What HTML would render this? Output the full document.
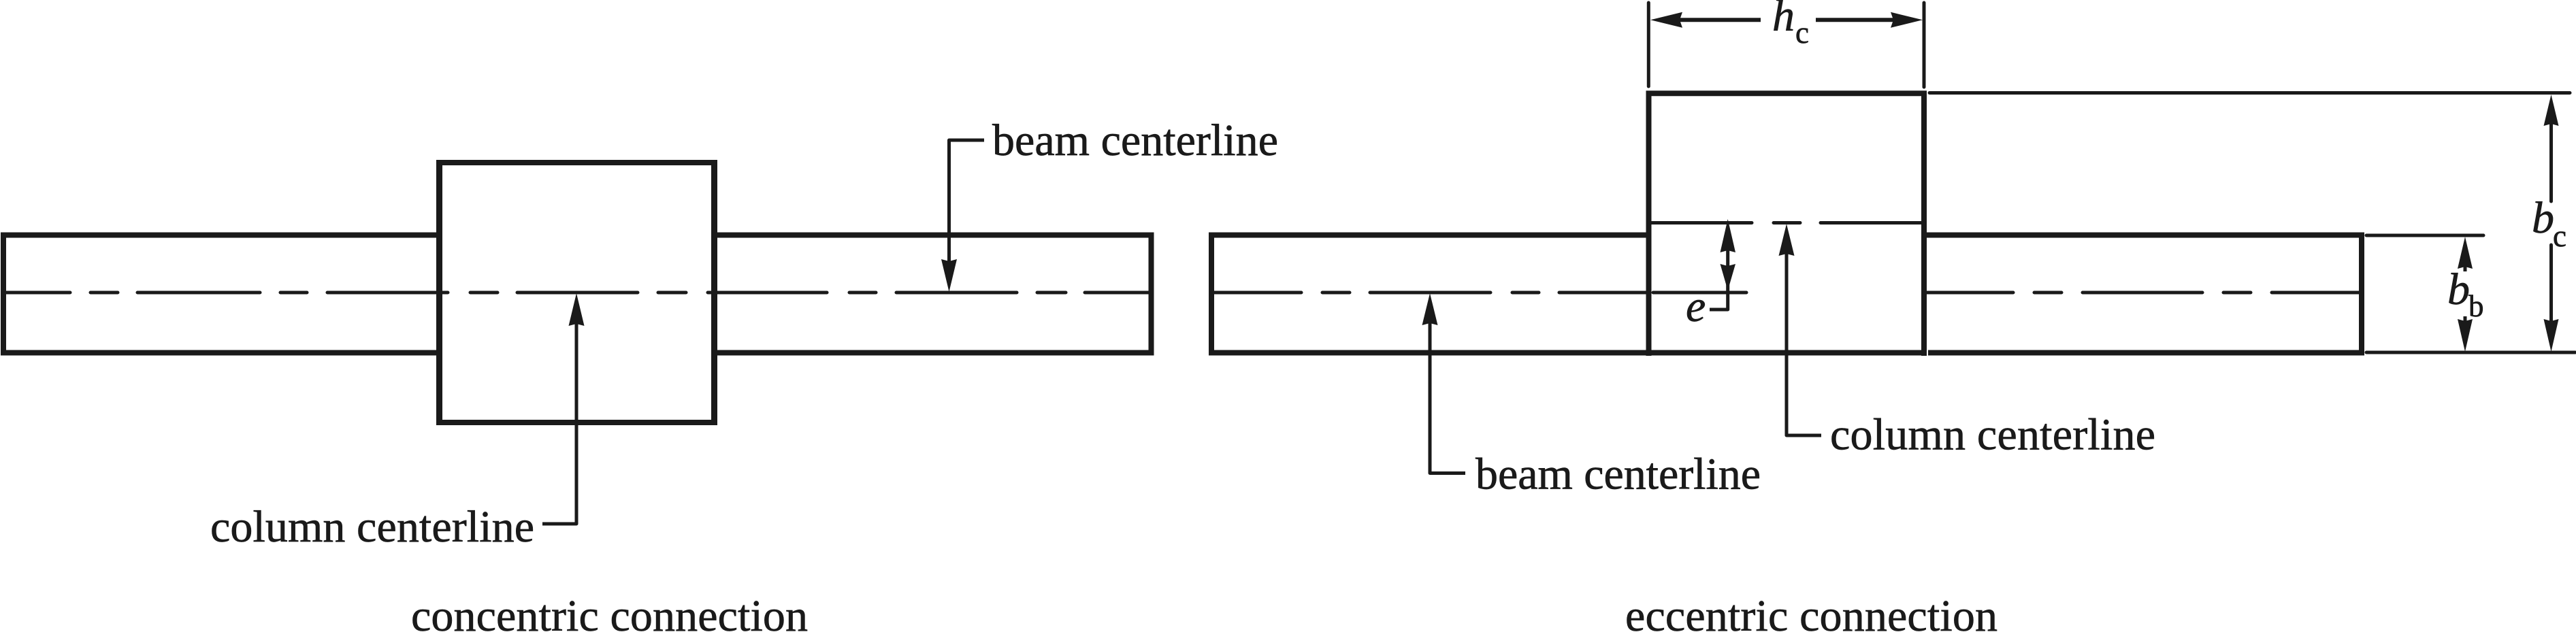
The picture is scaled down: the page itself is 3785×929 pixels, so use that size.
<!DOCTYPE html>
<html>
<head>
<meta charset="utf-8">
<style>
html,body{margin:0;padding:0;background:#fff;width:3785px;height:929px;overflow:hidden}
svg{display:block}
text{font-family:"Liberation Serif",serif;fill:#1a1a1a;stroke:#1a1a1a;stroke-width:.7px}
.t{font-size:66px}
.i{font-style:italic;font-size:66px}
.s{font-size:45px}
</style>
</head>
<body>
<svg width="3785" height="929" viewBox="0 0 3785 929" xmlns="http://www.w3.org/2000/svg">
<rect width="3785" height="929" fill="#fff"/>
<g fill="none" stroke="#1a1a1a" stroke-linecap="round" stroke-linejoin="round">
  <!-- left diagram thick -->
  <g stroke-linecap="butt" stroke-linejoin="miter">
    <path stroke-width="8" d="M646 345.5H5V518.5H646"/>
    <path stroke-width="8" d="M1049 345.5H1691.5V518.5H1049"/>
    <path stroke-width="8" d="M641 239H1054M641 621H1054"/>
    <path stroke-width="9" d="M645.5 235V625M1049.5 235V625"/>
  </g>
  <!-- left centerline -->
  <path stroke-width="5" d="M6 430H103M133 430H173M202 430H382M412 430H451M481 430H658M691 430H731M760 430H937M967 430H1008M1040 430H1215M1248 430H1287M1317 430H1494M1524 430H1566M1594 430H1690"/>
  <!-- left leaders -->
  <path stroke-width="5" stroke-linecap="butt" d="M1446 206H1394.5V400"/>
  <path stroke-width="5" stroke-linecap="butt" d="M797 770H847V470"/>

  <!-- right diagram thick -->
  <g stroke-width="8" stroke-linecap="butt" stroke-linejoin="miter">
    <path d="M2422.5 345.5H1780V518.5H2422.5"/>
    <path d="M2422.5 523V137.3H2827V523"/>
    <path d="M2422 518.5H2830"/>
    <path d="M2833 518.5H3470V345.5H2827"/>
  </g>
  <!-- right centerlines -->
  <path stroke-width="5" d="M1780 430H1912M1943 430H1983M2013 430H2190M2222 430H2261M2291 430H2420M2429 430H2566M2426 327.5H2574M2606 327.5H2645M2675 327.5H2827M2830 430H2958M2989 430H3029M3060 430H3236M3267 430H3307M3338 430H3470"/>
  <!-- extension lines -->
  <path stroke-width="5" d="M2422.3 4V127M2827 4V128M2835 136.5H3776M3477 346H3649M3477 518H3784"/>
  <!-- dimension lines -->
  <path stroke-width="6" stroke-linecap="butt" d="M2465 29.3H2587M2668 29.3H2785"/>
  <path stroke-width="5" stroke-linecap="butt" d="M3622 385V399M3622 465V480"/>
  <path stroke-width="5" d="M3748.5 175V296M3748.5 360V480"/>
  <path stroke-width="5" stroke-linecap="butt" d="M2538.7 360V455H2512"/>
  <path stroke-width="5" stroke-linecap="butt" d="M2153 695.5H2101V470"/>
  <path stroke-width="5" stroke-linecap="butt" d="M2676 640H2625V370"/>
</g>
<g fill="#1a1a1a" stroke="none">
  <polygon points="1394.5,429 1383,381 1394.5,384 1406,381"/>
  <polygon points="847,431 835.5,479 847,476 858.5,479"/>
  <polygon points="2101,431 2089.5,478 2101,475 2112.5,478"/>
  <polygon points="2625,329 2613.5,376 2625,373 2636.5,376"/>
  <polygon points="2425,29.3 2472,17.8 2468,29.3 2472,40.8"/>
  <polygon points="2825,29.3 2778,17.8 2782,29.3 2778,40.8"/>
  <polygon points="2538.7,322 2527.5,371 2538.7,368 2550,371"/>
  <polygon points="2538.7,427 2527.5,388 2538.7,391 2550,388"/>
  <polygon points="3622,348 3611,395 3622,392 3633,395"/>
  <polygon points="3622,517 3611,469 3622,472 3633,469"/>
  <polygon points="3748.5,139 3737.5,185 3748.5,182 3759.5,185"/>
  <polygon points="3748.5,517 3737.5,469 3748.5,472 3759.5,469"/>
</g>
<text class="t" x="1458" y="228" textLength="420">beam centerline</text>
<text class="t" x="309" y="796" textLength="476">column centerline</text>
<text class="t" x="604" y="927" textLength="583">concentric connection</text>
<text class="t" x="2168" y="718.5" textLength="419">beam centerline</text>
<text class="t" x="2689" y="660.5" textLength="478">column centerline</text>
<text class="t" x="2388" y="927" textLength="547">eccentric connection</text>
<text class="i" x="2604" y="45">h</text>
<text class="s" x="2638" y="63">c</text>
<text class="i" x="2477" y="472">e</text>
<text class="i" x="3596" y="447">b</text>
<text class="s" x="3627" y="465">b</text>
<text class="i" x="3720" y="342">b</text>
<text class="s" x="3751" y="362">c</text>
</svg>
</body>
</html>
